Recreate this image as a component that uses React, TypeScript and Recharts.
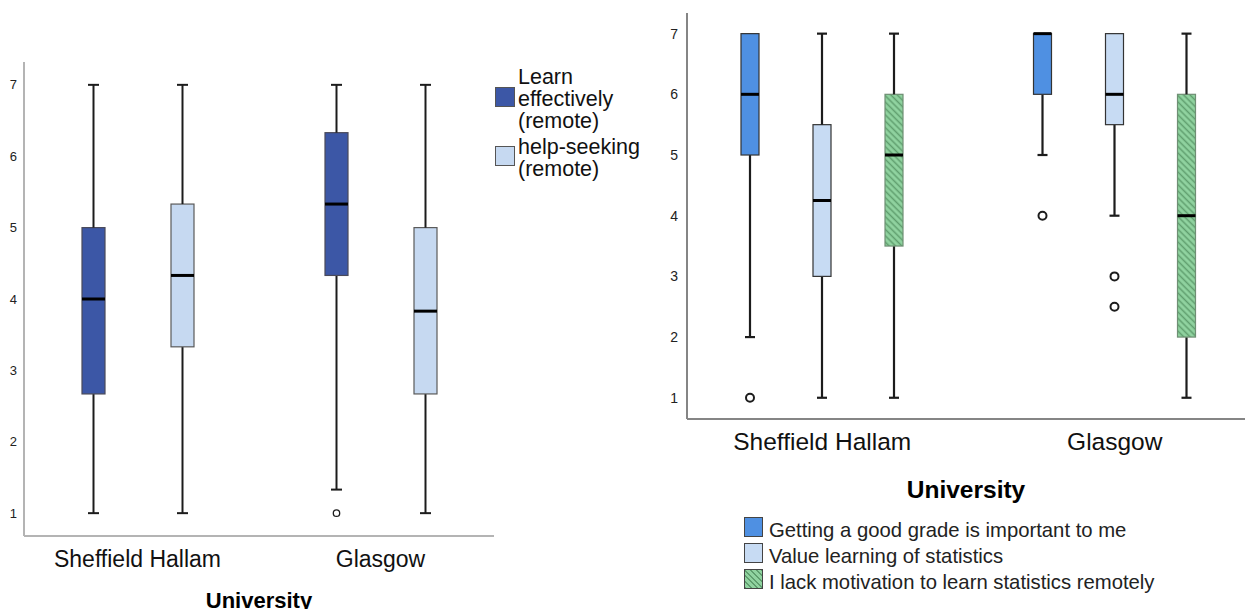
import React from 'react';
import { ComposedChart, Bar, XAxis, YAxis } from 'recharts';

type Box = { min: number; q1: number; median: number; q3: number; max: number; outliers: number[] };

// left panel
const leftCategories = ['Sheffield Hallam', 'Glasgow'];
const learnEffectively: Box[] = [
  { min: 1, q1: 2.67, median: 4, q3: 5, max: 7, outliers: [] },
  { min: 1.33, q1: 4.33, median: 5.33, q3: 6.33, max: 7, outliers: [1] },
];
const helpSeeking: Box[] = [
  { min: 1, q1: 3.33, median: 4.33, q3: 5.33, max: 7, outliers: [] },
  { min: 1, q1: 2.67, median: 3.83, q3: 5, max: 7, outliers: [] },
];
const leftLegend = ['Learn effectively (remote)', 'help-seeking (remote)'];

// right panel
const rightCategories = ['Sheffield Hallam', 'Glasgow'];
const goodGrade: Box[] = [
  { min: 2, q1: 5, median: 6, q3: 7, max: 7, outliers: [1] },
  { min: 5, q1: 6, median: 7, q3: 7, max: 7, outliers: [4] },
];
const valueLearning: Box[] = [
  { min: 1, q1: 3, median: 4.25, q3: 5.5, max: 7, outliers: [] },
  { min: 4, q1: 5.5, median: 6, q3: 7, max: 7, outliers: [3, 2.5] },
];
const lackMotivation: Box[] = [
  { min: 1, q1: 3.5, median: 5, q3: 6, max: 7, outliers: [] },
  { min: 1, q1: 2, median: 4, q3: 6, max: 7, outliers: [] },
];
const rightLegend = [
  'Getting a good grade is important to me',
  'Value learning of statistics',
  'I lack motivation to learn statistics remotely',
];

const yTicks = [1, 2, 3, 4, 5, 6, 7];
const axisTitle = 'University';

const FONT = '"Liberation Sans", Arial, sans-serif';

type Look = { fill: string; stroke: string; cap: number; whisker: number; dot: number };

const buildRows = (cats: string[], series: { key: string; boxes: Box[] }[]) =>
  cats.map((name, i) => {
    const row: Record<string, any> = { name };
    series.forEach(({ key, boxes }) => {
      const b = boxes[i];
      row[`${key}_base`] = b.min;
      row[`${key}_lw`] = b.q1 - b.min;
      row[`${key}_box`] = b.q3 - b.q1;
      row[`${key}_hw`] = b.max - b.q3;
      row[`${key}_stats`] = b;
    });
    return row;
  });

const Whisker = ({ x, y, width, height, side, look }: any) => {
  if (!height || height <= 0) return <g />;
  const cx = x + width / 2;
  const capY = side === 'low' ? y + height : y;
  return (
    <g>
      <line x1={cx} x2={cx} y1={y} y2={y + height} stroke="#1c1c1c" strokeWidth={look.whisker} />
      <line x1={cx - look.cap / 2} x2={cx + look.cap / 2} y1={capY} y2={capY} stroke="#1c1c1c" strokeWidth={look.whisker} />
    </g>
  );
};

// box from q1 to q3; median and outliers placed along the same scaled segment
const BoxBody = ({ x, y, width, height, payload, seriesKey, look }: any) => {
  const s: Box = payload[`${seriesKey}_stats`];
  const span = s.q3 - s.q1;
  const toY = (v: number) => y + ((s.q3 - v) / span) * height;
  const cx = x + width / 2;
  return (
    <g>
      <rect x={x} y={y} width={width} height={height} fill={look.fill} stroke={look.stroke} strokeWidth={1.2} />
      <line x1={x} x2={x + width} y1={toY(s.median)} y2={toY(s.median)} stroke="#000" strokeWidth={3} />
      {s.outliers.map((o, i) => (
        <circle key={i} cx={cx} cy={toY(o)} r={look.dot} fill="#fff" stroke="#1c1c1c" strokeWidth={look.dot > 3.5 ? 2 : 1.3} />
      ))}
    </g>
  );
};

const boxSeries = (key: string, look: Look) => [
  <Bar key={`${key}b`} dataKey={`${key}_base`} stackId={key} fill="none" isAnimationActive={false} shape={() => <g />} />,
  <Bar key={`${key}l`} dataKey={`${key}_lw`} stackId={key} isAnimationActive={false}
    shape={(p: any) => <Whisker {...p} side="low" look={look} />} />,
  <Bar key={`${key}x`} dataKey={`${key}_box`} stackId={key} isAnimationActive={false}
    shape={(p: any) => <BoxBody {...p} seriesKey={key} look={look} />} />,
  <Bar key={`${key}h`} dataKey={`${key}_hw`} stackId={key} isAnimationActive={false}
    shape={(p: any) => <Whisker {...p} side="high" look={look} />} />,
];

const CatTick = ({ x, y, payload, fontSize }: any) => (
  <text x={x} y={y} dy="0.71em" textAnchor="middle" fill="#111" fontSize={fontSize} fontFamily={FONT}>
    {payload.value}
  </text>
);

const AxisTitle = ({ viewBox, dy, fontSize }: any) => (
  <text x={viewBox.x + viewBox.width / 2} y={viewBox.y + dy} textAnchor="middle" fill="#000"
    fontSize={fontSize} fontWeight="bold" fontFamily={FONT}>
    {axisTitle}
  </text>
);

const leftRows = buildRows(leftCategories, [
  { key: 'learn', boxes: learnEffectively },
  { key: 'help', boxes: helpSeeking },
]);
const rightRows = buildRows(rightCategories, [
  { key: 'grade', boxes: goodGrade },
  { key: 'value', boxes: valueLearning },
  { key: 'lack', boxes: lackMotivation },
]);

const leftLooks: Look[] = [
  { fill: '#3c57a6', stroke: '#4a4a5a', cap: 11, whisker: 2, dot: 3.2 },
  { fill: '#c6d9f1', stroke: '#5a5a5a', cap: 11, whisker: 2, dot: 3.2 },
];
const rightLooks: Look[] = [
  { fill: '#4f90e2', stroke: '#333', cap: 10, whisker: 2.2, dot: 4 },
  { fill: '#c7dbf3', stroke: '#333', cap: 10, whisker: 2.2, dot: 4 },
  { fill: 'url(#hatchGreen)', stroke: '#6f8f74', cap: 10, whisker: 2.2, dot: 4 },
];
const rightSwatches = [
  '#4f90e2',
  '#c7dbf3',
  'repeating-linear-gradient(45deg, #5f9e6e 0 1.4px, #90d3a0 1.4px 4px)',
];

export default function App() {
  return (
    <div style={{ position: 'absolute', left: 0, top: 0, width: 1247, height: 609, background: '#fff', fontFamily: FONT, overflow: 'hidden' }}>
      <div style={{ position: 'absolute', left: 0, top: 0 }}>
        <ComposedChart width={520} height={609} data={leftRows} margin={{ top: 62, right: 26, bottom: 0, left: 0 }}
          barSize={23} barGap={66}>
          <XAxis dataKey="name" height={73} padding={{ left: -8, right: -8 }} tickLine={false} tickSize={6} tickMargin={9}
            axisLine={{ stroke: '#b4b4b4', strokeWidth: 2 }}
            tick={(p: any) => <CatTick {...p} fontSize={23} />}
            label={{ content: (p: any) => <AxisTitle {...p} dy={72} fontSize={22} /> } as any} />
          <YAxis type="number" domain={[0.68, 7.32]} allowDataOverflow ticks={yTicks} width={24} tickLine={false}
            tickSize={6} tickMargin={1} axisLine={{ stroke: '#b4b4b4', strokeWidth: 2 }}
            tick={{ fill: '#222', fontSize: 13, fontFamily: FONT }} />
          {boxSeries('learn', leftLooks[0])}
          {boxSeries('help', leftLooks[1])}
        </ComposedChart>
      </div>

      {/* left legend */}
      {leftLegend.map((label, i) => (
        <div key={label}>
          <div style={{ position: 'absolute', left: 495, top: i === 0 ? 87 : 146, width: 18, height: 18,
            background: leftLooks[i].fill, border: '1px solid #555' }} />
          <div style={{ position: 'absolute', left: 518, top: i === 0 ? 66 : 136, width: 130, fontSize: 21.5,
            lineHeight: '22px', color: '#111' }}>{label}</div>
        </div>
      ))}

      <div style={{ position: 'absolute', left: 640, top: 0 }}>
        <ComposedChart width={607} height={609} data={rightRows} margin={{ top: 13, right: 2, bottom: 0, left: 0 }}
          barSize={18} barGap={54}>
          <defs>
            <pattern id="hatchGreen" patternUnits="userSpaceOnUse" width={4.5} height={4.5} patternTransform="rotate(-45)">
              <rect width={4.5} height={4.5} fill="#90d3a0" />
              <line x1={2.25} y1={0} x2={2.25} y2={4.5} stroke="#5f9e6e" strokeWidth={1.5} />
            </pattern>
          </defs>
          <XAxis dataKey="name" height={190} padding={{ left: -11, right: -16 }} tickLine={false} tickSize={6} tickMargin={8}
            axisLine={{ stroke: '#858585', strokeWidth: 2 }}
            tick={(p: any) => <CatTick {...p} fontSize={24.5} />}
            label={{ content: (p: any) => <AxisTitle {...p} dy={79} fontSize={24.5} /> } as any} />
          <YAxis type="number" domain={[0.65, 7.34]} allowDataOverflow ticks={yTicks} width={47} tickLine={false}
            tickSize={6} tickMargin={3} axisLine={{ stroke: '#858585', strokeWidth: 2 }}
            tick={{ fill: '#222', fontSize: 14, fontFamily: FONT }} />
          {boxSeries('grade', rightLooks[0])}
          {boxSeries('value', rightLooks[1])}
          {boxSeries('lack', rightLooks[2])}
        </ComposedChart>
      </div>

      {/* right legend */}
      <div style={{ position: 'absolute', left: 744, top: 517 }}>
        {rightLegend.map((label, i) => (
          <div key={label} style={{ display: 'flex', alignItems: 'flex-start', height: 26 }}>
            <div style={{ width: 17, height: 18, background: rightSwatches[i], border: '1px solid #444', marginRight: 6 }} />
            <span style={{ fontSize: 20.3, lineHeight: '26px', marginTop: 0, color: '#222', whiteSpace: 'nowrap' }}>{label}</span>
          </div>
        ))}
      </div>
    </div>
  );
}
